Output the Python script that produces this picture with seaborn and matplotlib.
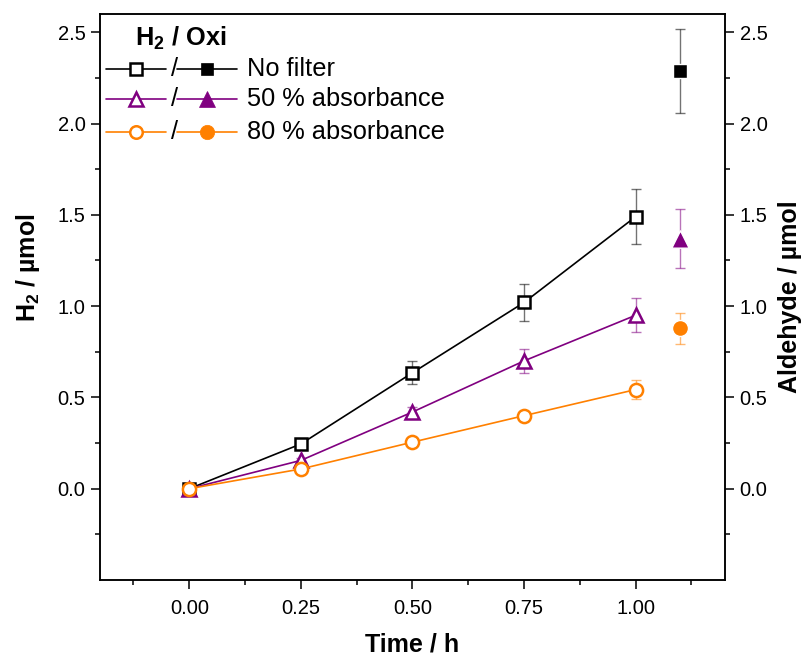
import numpy as np
import pandas as pd
import seaborn as sns
import matplotlib
matplotlib.use("Agg")
import matplotlib.pyplot as plt
from matplotlib.ticker import FixedLocator

# ---- data -------------------------------------------------------------
time_h = [0.0, 0.25, 0.50, 0.75, 1.00]

h2_no_filter = [0.0, 0.245, 0.635, 1.02, 1.49]
h2_no_filter_err = [0.0, 0.02, 0.062, 0.10, 0.15]

h2_abs50 = [0.0, 0.155, 0.42, 0.70, 0.95]
h2_abs50_err = [0.0, 0.015, 0.03, 0.067, 0.093]

h2_abs80 = [0.0, 0.108, 0.255, 0.40, 0.543]
h2_abs80_err = [0.0, 0.01, 0.015, 0.02, 0.05]

# aldehyde after oxidation, plotted beside the time series
oxi_time = 1.1
oxi_values = [2.29, 1.37, 0.88]
oxi_errors = [0.23, 0.16, 0.085]

series_names = ["No filter", "50 % absorbance", "80 % absorbance"]
colors = ["#000000", "#800080", "#FF8000"]
markers = ["s", "^", "o"]

x_ticks = [0.00, 0.25, 0.50, 0.75, 1.00]
y_ticks = [0.0, 0.5, 1.0, 1.5, 2.0, 2.5]

# ---- style ------------------------------------------------------------
sns.set_theme(style="white")
plt.rcParams["font.family"] = ["Liberation Sans", "DejaVu Sans"]
plt.rcParams["mathtext.fontset"] = "custom"
plt.rcParams["mathtext.rm"] = "Liberation Sans"
plt.rcParams["mathtext.bf"] = "Liberation Sans:bold"
plt.rcParams["axes.linewidth"] = 1.1
for key in ("text.color", "axes.labelcolor", "xtick.color", "ytick.color",
            "axes.edgecolor"):
    plt.rcParams[key] = "black"

fig = plt.figure(figsize=(8.03, 6.57), dpi=100)
ax = fig.add_axes([0.1245, 0.1172, 0.7783, 0.8615])
ax2 = ax.twinx()

h2_sets = [
    (h2_no_filter, h2_no_filter_err),
    (h2_abs50, h2_abs50_err),
    (h2_abs80, h2_abs80_err),
]

ms_open = {"s": 9.0, "^": 10.0, "o": 9.5}
ms_fill = {"s": 10.0, "^": 12.5, "o": 11.5}

for i, ((vals, errs), name, c, m) in enumerate(zip(h2_sets, series_names, colors, markers)):
    ax.errorbar(time_h, vals, yerr=errs, fmt="none", ecolor=c, alpha=0.55,
                elinewidth=1.0, capsize=3.8, capthick=1.0, zorder=2 + i)
    df = pd.DataFrame({"time": time_h, "h2": vals})
    sns.lineplot(data=df, x="time", y="h2", ax=ax, color=c, lw=1.2,
                 marker=m, markersize=ms_open[m], markerfacecolor="white",
                 markeredgecolor=c, markeredgewidth=1.8, errorbar=None,
                 zorder=3 + i)

oxi_df = pd.DataFrame({"time": [oxi_time] * 3, "ald": oxi_values,
                       "series": series_names})
for i, (c, m) in enumerate(zip(colors, markers)):
    ax2.errorbar([oxi_time], [oxi_values[i]], yerr=[oxi_errors[i]], fmt="none",
                 ecolor=c, alpha=0.55, elinewidth=1.0, capsize=3.8,
                 capthick=1.0, zorder=2)
    sub = oxi_df.iloc[[i]]
    sns.scatterplot(data=sub, x="time", y="ald", ax=ax2, color=c, marker=m,
                    s=ms_fill[m] ** 2, edgecolor="white", linewidth=1.0,
                    zorder=4, legend=False)

# ---- axes -------------------------------------------------------------
for a in (ax, ax2):
    a.set_xlim(-0.2, 1.2)
    a.set_ylim(-0.5, 2.6)
    a.yaxis.set_major_locator(FixedLocator(y_ticks))
    a.yaxis.set_minor_locator(FixedLocator([-0.25, 0.25, 0.75, 1.25, 1.75, 2.25]))
    a.set_xlabel("")
    a.set_ylabel("")

ax.xaxis.set_major_locator(FixedLocator(x_ticks))
ax.xaxis.set_minor_locator(FixedLocator([-0.125, 0.125, 0.375, 0.625, 0.875, 1.125]))
ax.set_xticklabels([f"{t:.2f}" for t in x_ticks])
ax.set_yticklabels([f"{t:.1f}" for t in y_ticks])
ax2.set_yticklabels([f"{t:.1f}" for t in y_ticks])

tick_fs = 14.5
ax.tick_params(axis="both", which="major", direction="out", length=6.5,
               width=1.1, labelsize=tick_fs, pad=4, bottom=True, left=True,
               top=False, right=False, colors="black")
ax.tick_params(axis="both", which="minor", direction="out", length=3.5,
               width=1.1, bottom=True, left=True, top=False, right=False,
               colors="black")
ax.tick_params(axis="x", which="major", pad=7)
ax2.tick_params(axis="y", which="major", direction="out", length=6.5,
                width=1.1, labelsize=tick_fs, pad=4, right=True, left=False,
                colors="black")
ax2.tick_params(axis="y", which="minor", direction="out", length=3.5,
                width=1.1, right=True, left=False, colors="black")
ax2.tick_params(axis="x", which="both", bottom=False, top=False,
                labelbottom=False)

for a in (ax, ax2):
    for s in a.spines.values():
        s.set_color("black")
        s.set_linewidth(1.1)
        s.set_visible(True)

label_fs = 18
ax.set_xlabel("Time / h", fontsize=label_fs, fontweight="bold", color="black")
ax.xaxis.set_label_coords(0.5, -0.092)
ax.set_ylabel(r"H$_\mathbf{2}$ / µmol", fontsize=label_fs, fontweight="bold",
              color="black")
ax.yaxis.set_label_coords(-0.093, 0.551)
ax2.set_ylabel("Aldehyde / µmol", fontsize=label_fs, fontweight="bold",
               color="black")
ax2.yaxis.set_label_coords(1.085, 0.5)

# ---- legend: open (H2) / filled (Oxi) symbol pairs --------------------
def px_to_ax(px, py):
    return (px - 100) / 625, (580 - py) / 566

leg_fs = 18.3
tx, ty = px_to_ax(135, 38)
ax2.text(tx, ty, r"H$_\mathbf{2}$ / Oxi", transform=ax2.transAxes,
         fontsize=leg_fs, fontweight="bold", va="center", ha="left",
         color="black")

row_y = [69.5, 99.5, 132.5]
for name, c, m, py in zip(series_names, colors, markers, row_y):
    x0, y0 = px_to_ax(106, py)
    x1, _ = px_to_ax(166, py)
    xm, _ = px_to_ax(136, py)
    ax2.plot([x0, x1], [y0, y0], color=c, lw=1.2, transform=ax2.transAxes,
             clip_on=False, zorder=5)
    ax2.plot([xm], [y0], marker=m, ms=ms_open[m] * 0.95, mfc="white", mec=c,
             mew=1.8, transform=ax2.transAxes, clip_on=False, zorder=6)
    xs, _ = px_to_ax(174.5, py)
    ax2.text(xs, y0, "/", transform=ax2.transAxes, fontsize=leg_fs,
             ha="center", va="center", color="black")
    x2, _ = px_to_ax(177, py)
    x3, _ = px_to_ax(237, py)
    xf, _ = px_to_ax(207, py)
    ax2.plot([x2, x3], [y0, y0], color=c, lw=1.2, transform=ax2.transAxes,
             clip_on=False, zorder=5)
    ax2.plot([xf], [y0], marker=m, ms=ms_fill[m] * 0.9, mfc=c, mec=c,
             mew=0.5, transform=ax2.transAxes, clip_on=False, zorder=6)
    xt, _ = px_to_ax(247, py)
    ax2.text(xt, y0, name, transform=ax2.transAxes, fontsize=leg_fs,
             ha="left", va="center", color="black")

fig.savefig("out.png", dpi=100)
